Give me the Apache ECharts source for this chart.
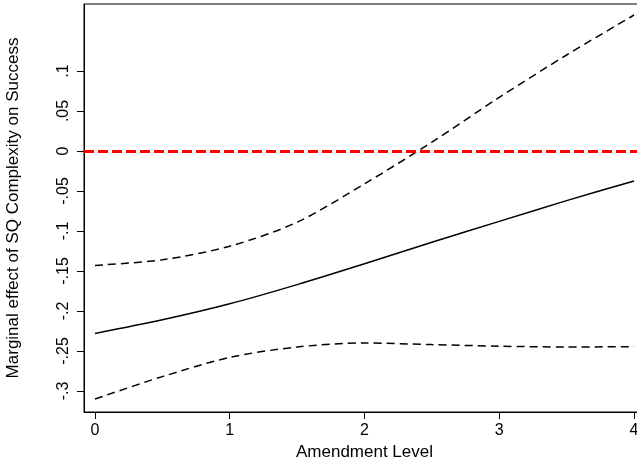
<!DOCTYPE html>
<html>
<head>
<meta charset="utf-8">
<script src="https://cdn.jsdelivr.net/npm/echarts@6/dist/echarts.min.js"></script>
<style>html,body{margin:0;padding:0;background:#fff;}#c{width:637px;height:461px;}</style>
</head>
<body>
<div id="c"></div>
<script>
const amendLevel = [0, 0.5, 1, 1.5, 2, 2.5, 3, 3.5, 4];
const marginalEffect = [-0.228, -0.211, -0.191, -0.167, -0.141, -0.114, -0.088, -0.062, -0.0375];
const upperCI = [-0.143, -0.136, -0.119, -0.089, -0.041, 0.011, 0.067, 0.120, 0.170];
const lowerCI = [-0.310, -0.282, -0.258, -0.245, -0.240, -0.242, -0.244, -0.245, -0.2445];
const xTicks = [0, 1, 2, 3, 4];
const yTicks = [-0.3, -0.25, -0.2, -0.15, -0.1, -0.05, 0, 0.05, 0.1];
const referenceY = 0;

const FONT = 'Liberation Sans';
const pair = (xs, ys) => xs.map((x, i) => [x, ys[i]]);
const fmtY = v => {
  const r = Math.round(v * 100) / 100;
  if (r === 0) return '0';
  let s = String(r);
  return s.replace(/^(-?)0\./, '$1.');
};

const chart = echarts.init(document.getElementById('c'), null, {renderer: 'canvas'});
chart.setOption({
  animation: false,
  backgroundColor: '#fff',
  grid: {left: 84, top: 4, width: 561, height: 408, containLabel: false, outerBoundsMode: 'none',
         show: true, borderColor: '#000', borderWidth: 1, backgroundColor: 'transparent'},
  xAxis: {
    type: 'value', min: -0.0816, max: 4.0816,
    name: 'Amendment Level', nameLocation: 'middle', nameGap: 30,
    nameTextStyle: {fontFamily: FONT, fontSize: 17, color: '#000'},
    axisLine: {show: true, onZero: false, lineStyle: {color: '#000', width: 1}},
    axisTick: {show: true, length: 7, lineStyle: {color: '#000'}, customValues: xTicks},
    axisLabel: {fontFamily: FONT, fontSize: 16, color: '#000', margin: 11, customValues: xTicks, formatter: v => String(v)},
    splitLine: {show: false}
  },
  yAxis: {
    type: 'value', min: -0.32625, max: 0.18375,
    name: 'Marginal effect of SQ Complexity on Success', nameLocation: 'middle', nameGap: 62,
    nameTextStyle: {fontFamily: FONT, fontSize: 17, color: '#000'},
    axisLine: {show: true, onZero: false, lineStyle: {color: '#000', width: 1}},
    axisTick: {show: true, length: 7, lineStyle: {color: '#000'}, customValues: yTicks},
    axisLabel: {fontFamily: FONT, fontSize: 16, color: '#000', rotate: 90, margin: 12, customValues: yTicks, formatter: fmtY},
    splitLine: {show: false}
  },
  series: [
    {
      type: 'line', data: pair(amendLevel, upperCI), smooth: 0.3, symbol: 'none',
      lineStyle: {color: '#000', width: 1.5, type: [8, 5]}
    },
    {
      type: 'line', data: pair(amendLevel, marginalEffect), smooth: 0.3, symbol: 'none',
      lineStyle: {color: '#000', width: 1.5, type: 'solid'}
    },
    {
      type: 'line', data: pair(amendLevel, lowerCI), smooth: 0.3, symbol: 'none',
      lineStyle: {color: '#000', width: 1.5, type: [8, 5]},
      markLine: {
        silent: true, symbol: ['none', 'none'], label: {show: false},
        lineStyle: {color: '#ff0000', width: 3, type: [10, 4]},
        data: [{yAxis: referenceY}]
      }
    }
  ]
});
</script>
</body>
</html>
